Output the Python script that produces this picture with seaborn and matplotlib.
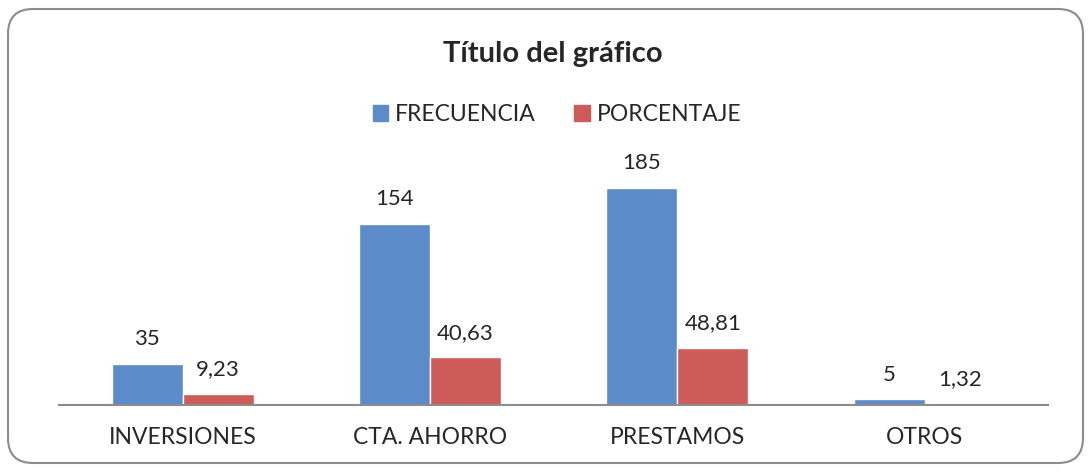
import matplotlib
matplotlib.use('Agg')
import matplotlib.pyplot as plt
from matplotlib.patches import FancyBboxPatch, Patch
import pandas as pd
import seaborn as sns

categorias = ['INVERSIONES', 'CTA. AHORRO', 'PRESTAMOS', 'OTROS']
frecuencia = [35, 154, 185, 5]
porcentaje = [9.23, 40.63, 48.81, 1.32]
series = ['FRECUENCIA', 'PORCENTAJE']
colores = ['#5B8BC9', '#CD5B57']

sns.set_style('white')
plt.rcParams['font.family'] = ['Lato', 'DejaVu Sans']

df = pd.DataFrame({
    'categoria': categorias * 2,
    'serie': [series[0]] * 4 + [series[1]] * 4,
    'valor': frecuencia + porcentaje,
})

fig = plt.figure(figsize=(10.91, 4.72), dpi=100)
ax = fig.add_axes([0.054, 0.142, 0.907, 0.498])

sns.barplot(data=df, x='categoria', y='valor', hue='serie', palette=colores,
            width=0.574, gap=0, saturation=1, ax=ax, legend=False)

ax.set_ylim(0, 200)
ax.set_xlim(-0.5, 3.5)
ax.set_xlabel('')
ax.set_ylabel('')
ax.set_yticks([])
ax.tick_params(axis='x', length=0, pad=16, labelsize=16.5)
for s in ['top', 'right', 'left']:
    ax.spines[s].set_visible(False)
ax.spines['bottom'].set_color('#8C8C8C')
ax.spines['bottom'].set_linewidth(1.5)

for cont in ax.containers:
    etiquetas = [f"{b.get_height():g}".replace('.', ',') for b in cont]
    ax.bar_label(cont, labels=etiquetas, padding=10.5, fontsize=16)

fig.text(0.507, 0.8686, 'Título del gráfico', ha='center', va='baseline',
         fontsize=21, fontweight='bold')

handles = [Patch(color=c, label=s) for c, s in zip(colores, series)]
fig.legend(handles=handles, loc='center', bbox_to_anchor=(0.5105, 0.757), ncol=2,
           frameon=False, fontsize=16.5, handlelength=0.66, handleheight=0.66,
           handletextpad=0.3, columnspacing=1.7)

borde = FancyBboxPatch((0.08, 0.09), 10.75, 4.54, boxstyle='round,pad=0,rounding_size=0.25',
                       transform=fig.dpi_scale_trans, fill=False, edgecolor='#8C8C8C',
                       linewidth=1.5)
fig.patches.append(borde)

fig.savefig('out.png', dpi=100)
